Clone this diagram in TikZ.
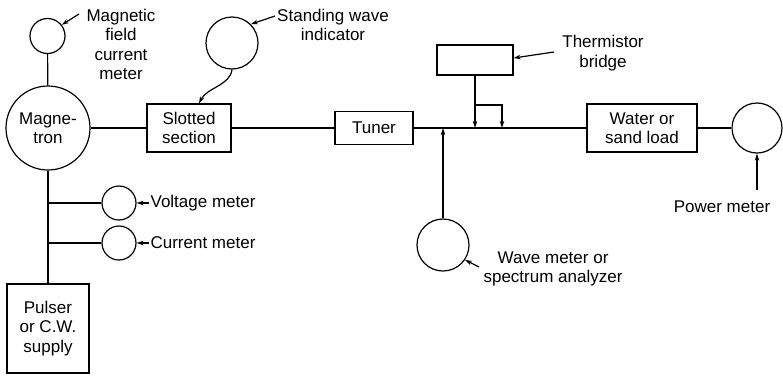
\documentclass[tikz,border=0pt]{standalone}
\usepackage{fontspec}
\setmainfont{Liberation Sans}
\usetikzlibrary{arrows.meta}
\begin{document}
\begin{tikzpicture}[x=1pt,y=-1pt,line width=1.2pt,
  txt/.style={font=\fontsize{17}{19.5}\selectfont,align=center,inner sep=0pt},
  meter/.style={draw,circle,inner sep=0pt,txt},
  boxx/.style={draw,rectangle,inner sep=0pt,txt},
  arr/.style={-{Stealth[length=7pt,width=4.5pt]}}]
\useasboundingbox (0,0) rectangle (783,375);
% instruments
\node[meter,minimum size=35pt] (mf) at (47.5,36) {};
\node[meter,minimum size=84pt] (mag) at (48,128) {Magne-\\tron};
\node[meter,minimum size=34pt] (vm) at (119,203) {};
\node[meter,minimum size=34pt] (cm) at (119,243) {};
\node[boxx,minimum width=82pt,minimum height=89pt] (pul) at (48,328.5) {Pulser\\or C.W.\\supply};
\node[boxx,minimum width=84pt,minimum height=48pt] (ss) at (189,128) {Slotted\\section};
\node[meter,minimum size=52pt] (swi) at (232,43) {};
\node[boxx,minimum width=78pt,minimum height=33pt] (tun) at (374,128) {Tuner};
\node[boxx,minimum width=76pt,minimum height=30pt] (tb) at (475,60) {};
\node[boxx,minimum width=110pt,minimum height=48pt] (wl) at (642,128) {Water or\\sand load};
\node[meter,minimum size=50pt] (pm) at (757,128) {};
\node[meter,minimum size=52pt] (wm) at (443,245) {};
% labels
\node[txt] (lmf) at (121,44.5) {Magnetic\\field\\current\\meter};
\node[txt] (lswi) at (333,25) {Standing wave\\indicator};
\node[txt] (ltb) at (603,53) {Thermistor\\bridge};
\node[txt,anchor=west] (lvm) at (150,203) {Voltage meter};
\node[txt,anchor=west] (lcm) at (150,243) {Current meter};
\node[txt] (lpm) at (722,207) {Power meter};
\node[txt] (lwm) at (553,269) {Wave meter or\\spectrum analyzer};
% junction coordinates
\coordinate (jv) at (48,203);
\coordinate (jc) at (48,243);
\coordinate (jw) at (443,128);
\coordinate (j1) at (475,128);
\coordinate (j2) at (502,128);
\coordinate (b1) at (475,105);
\coordinate (b2) at (502,105);
% label arrow starts
\coordinate (amf) at (79,14);
\coordinate (aswi) at (275,16);
\coordinate (atb) at (554,52);
\coordinate (avm) at (149,203);
\coordinate (acm) at (149,243);
\coordinate (awm) at (479,267);
\coordinate (apm) at (757,190);
% connections
\draw (mf) -- (mag);
\draw (mag) -- (pul);
\draw (jv) -- (vm);
\draw (jc) -- (cm);
\draw (mag) -- (ss);
\draw (ss) -- (tun);
\draw (tun) -- (wl);
\draw (wl) -- (pm);
\draw[arr] (tb.south) -- (j1);
\draw[arr] (b1) -- (b2) -- (j2);
\draw[arr] (wm) -- (jw);
\draw[arr] (swi.south) .. controls +(-2,16) and +(8,-16) .. ([xshift=10pt]ss.north);
% label arrows
\draw[arr] (amf) -- (mf.38);
\draw[arr] (aswi) -- (swi.45);
\draw[arr] (atb) -- ([yshift=2pt]tb.east);
\draw[arr] (avm) -- (vm.east);
\draw[arr] (acm) -- (cm.east);
\draw[arr] (awm) -- (wm.-34);
\draw[arr] (apm) -- (pm.south);
\end{tikzpicture}
\end{document}
